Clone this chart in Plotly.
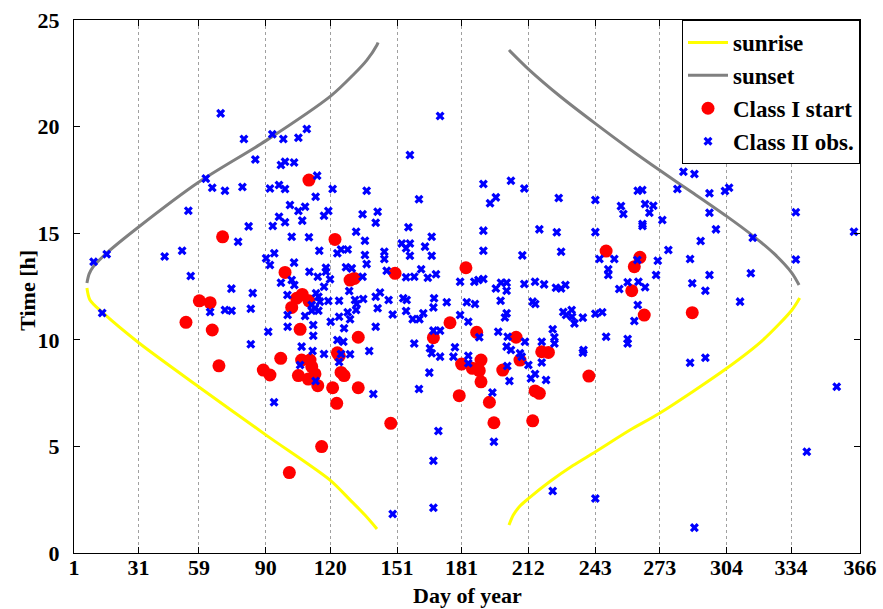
import plotly.graph_objects as go

# ---- data ----
sunrise_day = [7.0, 8.4, 14.5, 31.2, 59.0, 90.2, 119.9, 129.2, 136.1, 141.7,
               None,
               203.0, 205.0, 208.1, 212.0, 222.0, 232.7, 243.0, 259.2, 273.1, 304.3, 320.9, 334.4, 338.0]
sunrise_h = [12.43, 11.87, 11.26, 9.85, 7.79, 5.53, 3.42, 2.49, 1.78, 1.13,
             None,
             1.31, 1.78, 2.20, 2.55, 3.35, 4.10, 4.74, 5.77, 6.57, 8.68, 9.99, 11.40, 11.96]

sunset_day = [7.0, 8.0, 9.8, 16.0, 31.0, 59.0, 90.0, 120.3, 130.6, 137.0, 141.7, 142.2,
              None,
              203.0, 212.0, 227.0, 243.0, 259.0, 273.0, 289.0, 304.0, 316.0, 326.0, 334.4, 337.7]
sunset_h = [12.66, 13.08, 13.41, 14.05, 15.29, 17.40, 19.33, 21.44, 22.42, 23.12, 23.83, 23.95,
            None,
            23.59, 22.70, 21.40, 20.15, 18.95, 17.95, 16.85, 15.80, 14.90, 14.05, 13.13, 12.57]

class1_day = [70.0, 59.2, 64.2, 53.0, 65.2, 68.3,
              110.1, 122.2, 99.0, 150.1, 129.2, 131.2, 104.4, 107.0, 110.1, 102.1, 106.0, 133.0, 167.9, 175.6,
              97.0, 88.9, 92.0, 106.7, 110.6, 111.4, 105.2, 109.8, 112.9, 114.2, 123.3, 124.2, 125.0, 126.4,
              121.1, 133.0, 123.0, 148.1, 116.0, 101.0,
              183.0, 188.0, 206.3, 248.1, 261.2, 263.8, 260.0,
              218.2, 221.3, 208.1, 190.0, 181.0, 186.0, 189.2, 200.1, 190.0, 179.9, 193.9, 215.1, 217.1,
              196.0, 214.0, 240.1,
              265.8, 288.1]
class1_h = [14.83, 11.83, 11.74, 10.82, 10.46, 8.78,
            17.49, 14.71, 13.16, 13.12, 12.80, 12.88, 11.95, 12.13, 11.83, 11.52, 10.49, 10.12, 10.10, 10.80,
            9.13, 8.58, 8.35, 9.05, 9.05, 8.74, 8.32, 8.16, 8.40, 7.85, 9.39, 9.25, 8.47, 8.32,
            7.75, 7.75, 7.02, 6.08, 4.99, 3.77,
            13.38, 10.35, 10.12, 14.16, 13.43, 13.87, 12.30,
            9.44, 9.41, 9.05, 9.05, 8.86, 8.66, 8.55, 8.58, 8.03, 7.38, 7.07, 7.60, 7.49,
            6.11, 6.20, 8.30,
            11.16, 11.27]

class2_day = [69.1, 79.9, 85.2, 62.2, 65.2, 71.1, 79.2, 54.1, 82.1, 77.2, 16.2, 10.1, 43.1, 51.2, 55.2, 74.1,
              84.0, 14.1, 64.2, 71.1, 74.2, 83.1, 83.1,
              171.0, 93.1, 98.2, 105.2, 109.1, 97.1, 99.0, 103.2, 157.0, 113.9, 92.0, 96.2, 99.0, 121.1, 136.9,
              113.2, 161.2, 101.3, 105.2, 108.3, 119.1, 117.1, 96.2, 99.0, 107.0, 93.3, 135.0, 142.0, 141.1,
              156.3, 167.1, 102.1, 110.1, 132.0, 136.1, 153.2, 157.0, 155.2, 164.0, 157.0, 167.1, 114.9, 125.0,
              128.1, 123.3, 136.1, 145.1, 145.1, 136.9, 90.2, 94.0, 92.0, 103.2, 110.3, 118.0, 118.0, 127.3,
              130.0, 146.2, 162.2, 155.2, 159.0, 165.3, 169.1, 114.2, 119.9, 135.0, 97.1, 102.1, 103.3, 117.1,
              128.8, 100.1, 113.4, 114.5, 143.1, 141.1, 153.9, 155.5, 147.1, 168.2, 174.1, 119.1, 124.1, 115.2,
              131.5, 132.3, 135.3, 111.4, 112.9, 114.5, 111.4, 128.1, 132.0, 142.0, 155.2, 163.2, 158.3, 161.4,
              167.9, 100.2, 108.3, 149.0, 129.2, 124.1, 120.2, 112.1, 100.2, 126.4, 141.1, 167.9, 171.0, 91.2,
              112.1, 123.3, 126.1, 159.0, 166.3, 106.7,
              138.1, 117.1, 125.0, 129.2, 124.1, 106.0, 113.2, 140.0, 93.9, 166.0, 161.2, 170.2, 167.9, 167.9,
              149.0, 167.1, 171.0, 111.8,
              191.1, 203.9, 210.1, 196.9, 194.2, 226.1, 243.1, 255.0, 256.1, 262.8, 191.1, 217.1, 225.2, 243.1,
              191.1, 209.2, 227.2, 245.0, 251.9, 249.1, 249.1, 262.6, 258.1, 254.2, 263.1, 180.3, 186.9, 188.8,
              191.1, 199.3, 201.9, 196.9, 201.9, 210.1, 215.1, 219.3, 224.8, 227.2, 229.2, 183.4, 187.2, 199.1,
              214.0, 215.2, 201.9, 201.1, 180.3, 184.1, 228.2, 232.1, 229.5, 232.3, 233.4, 237.3, 243.1, 246.3,
              261.2, 262.8, 198.0, 189.2, 202.4, 210.4, 223.3, 224.1, 224.1, 218.2, 248.1, 258.1, 258.1, 177.9,
              201.9, 237.6,
              196.0, 223.3, 243.1, 195.3, 203.2, 220.2, 213.2, 215.1, 212.0, 202.2, 218.2, 237.3, 208.9, 208.1,
              184.1, 184.1, 177.2, 203.9,
              284.0, 289.1, 264.9, 281.2, 296.1, 303.3, 305.2, 266.2, 270.0, 268.2, 296.1, 274.2, 265.0, 265.0,
              336.2, 299.1, 316.2, 363.2, 292.0, 277.0, 272.1, 287.1, 336.2, 271.3, 296.1, 315.3, 266.2, 288.1,
              294.2, 310.3,
              287.1, 294.2, 355.2, 341.3, 289.1]
class2_h = [20.62, 19.42, 18.46, 17.56, 17.13, 16.99, 17.17, 16.05, 15.32, 14.60, 14.01, 13.66, 13.91, 14.18,
            12.99, 12.40, 12.19, 11.26, 11.30, 11.40, 11.36, 11.46, 9.79,
            20.50, 19.64, 19.42, 19.48, 19.89, 18.20, 18.35, 18.32, 18.67, 17.70, 17.10, 17.26, 17.07, 17.07,
            16.99, 16.71, 16.59, 16.32, 16.04, 16.24, 16.04, 15.82, 15.77, 15.51, 15.59, 15.34, 15.89, 16.01,
            15.49, 15.28, 14.83, 14.83, 14.81, 15.07, 14.65, 14.52, 14.52, 14.29, 14.37, 13.94, 13.94, 14.18,
            14.24, 14.24, 14.06, 13.98, 14.13, 13.79, 13.55, 13.82, 14.06, 13.51, 13.62, 13.19, 13.38, 13.19,
            13.40, 13.35, 13.24, 13.31, 12.93, 12.96, 12.91, 13.07, 12.96, 12.84, 12.96, 12.68, 12.80, 12.57,
            12.49, 12.29, 12.10, 12.18, 12.02, 12.22, 12.02, 11.95, 11.87, 11.87, 11.95, 11.76, 11.82, 11.83,
            11.79, 11.87, 11.68, 11.91, 11.63, 11.48, 11.36, 11.36, 11.29, 11.40, 11.48, 11.35, 11.24, 10.97,
            10.97, 11.52, 11.16, 11.12, 11.19, 10.96, 11.08, 10.85, 10.69, 10.61, 10.54, 10.61, 10.43, 10.43,
            10.38, 10.19, 9.99, 9.91, 9.83, 9.60, 9.68,
            9.47, 9.33, 9.33, 9.32, 8.96, 8.82, 8.07, 7.46, 7.07, 8.46, 7.69, 5.72, 4.33, 2.12,
            1.83, 9.37, 9.21, 9.47,
            17.31, 17.46, 17.10, 16.68, 16.40, 16.65, 16.56, 16.27, 15.90, 16.99, 15.12, 15.18, 15.04, 15.05,
            14.18, 13.96, 14.13, 13.79, 13.79, 13.31, 13.04, 13.74, 12.70, 12.38, 12.72, 12.72, 12.72, 12.80,
            12.85, 12.68, 12.68, 12.41, 12.30, 12.62, 12.72, 12.60, 12.44, 12.41, 12.57, 11.76, 11.68, 11.83,
            11.79, 11.68, 11.24, 11.05, 11.16, 10.85, 11.30, 11.40, 11.16, 11.08, 10.77, 11.04, 11.22, 11.29,
            10.88, 11.63, 10.38, 10.12, 10.14, 9.91, 10.49, 10.12, 9.83, 9.91, 10.14, 10.04, 9.83, 9.65,
            9.68, 9.52,
            5.22, 2.91, 2.56, 7.53, 8.07, 8.11, 8.19, 8.40, 8.82, 8.77, 8.94, 9.39, 9.21, 9.37,
            8.90, 9.25, 9.21, 9.52,
            17.88, 17.78, 17.03, 17.07, 16.87, 16.98, 17.13, 16.37, 16.29, 15.96, 15.96, 15.62, 15.43, 15.34,
            15.98, 15.18, 14.79, 15.07, 14.63, 14.21, 13.71, 13.79, 13.77, 13.04, 13.04, 13.12, 12.46, 12.65,
            12.30, 11.79,
            8.92, 9.16, 7.80, 4.75, 1.19]

x_ticks = [1, 31, 59, 90, 120, 151, 181, 212, 243, 273, 304, 334, 366]
y_ticks = [0, 5, 10, 15, 20, 25]

FONT = "Liberation Serif"

fig = go.Figure()
fig.add_trace(go.Scatter(x=sunrise_day, y=sunrise_h, mode="lines", name="sunrise",
                         line=dict(color="#ffff00", width=3, shape="spline", smoothing=0.8),
                         connectgaps=False))
fig.add_trace(go.Scatter(x=sunset_day, y=sunset_h, mode="lines", name="sunset",
                         line=dict(color="#808080", width=3, shape="spline", smoothing=0.8),
                         connectgaps=False))
fig.add_trace(go.Scatter(x=class1_day, y=class1_h, mode="markers", name="Class I start",
                         marker=dict(symbol="circle", color="#ff0000", size=13, line=dict(width=0))))
fig.add_trace(go.Scatter(x=class2_day, y=class2_h, mode="markers", name="Class II obs.",
                         marker=dict(symbol="x", color="#0000ff", size=8, line=dict(width=0))))

axis_common = dict(
    showline=True, linecolor="black", linewidth=1, mirror="ticks",
    ticks="inside", ticklen=6, tickcolor="black", tickwidth=1,
    tickfont=dict(family=FONT, size=22, color="black", weight="bold"),
    zeroline=False, automargin=False,
)

fig.update_xaxes(range=[1, 366], tickmode="array", tickvals=x_ticks,
                 ticktext=[str(t) for t in x_ticks],
                 showgrid=True, gridcolor="#a0a0a0", griddash="dot", gridwidth=1,
                 ticklabelstandoff=-5,
                 **axis_common)
fig.update_yaxes(range=[0, 25], tickmode="array", tickvals=y_ticks,
                 showgrid=False,
                 ticklabelstandoff=9,
                 **axis_common)

title_font = dict(family=FONT, size=22, color="black", weight="bold")
fig.add_annotation(text="Day of year", xref="paper", yref="paper", x=0.5, y=-0.0788,
                   xanchor="center", yanchor="middle", showarrow=False, font=title_font)
fig.add_annotation(text="Time [h]", xref="paper", yref="paper", x=-0.0585, y=0.492,
                   xanchor="center", yanchor="middle", textangle=-90, showarrow=False, font=title_font)

fig.update_layout(
    width=883, height=609,
    margin=dict(l=74, r=23, t=20, b=56),
    paper_bgcolor="white", plot_bgcolor="white",
    showlegend=True,
    legend=dict(x=1, y=1, xanchor="right", yanchor="top",
                bgcolor="white", bordercolor="black", borderwidth=1,
                font=dict(family=FONT, size=23, color="black", weight="bold"),
                itemwidth=40, tracegroupgap=0),
)

fig.write_html("out.html")
